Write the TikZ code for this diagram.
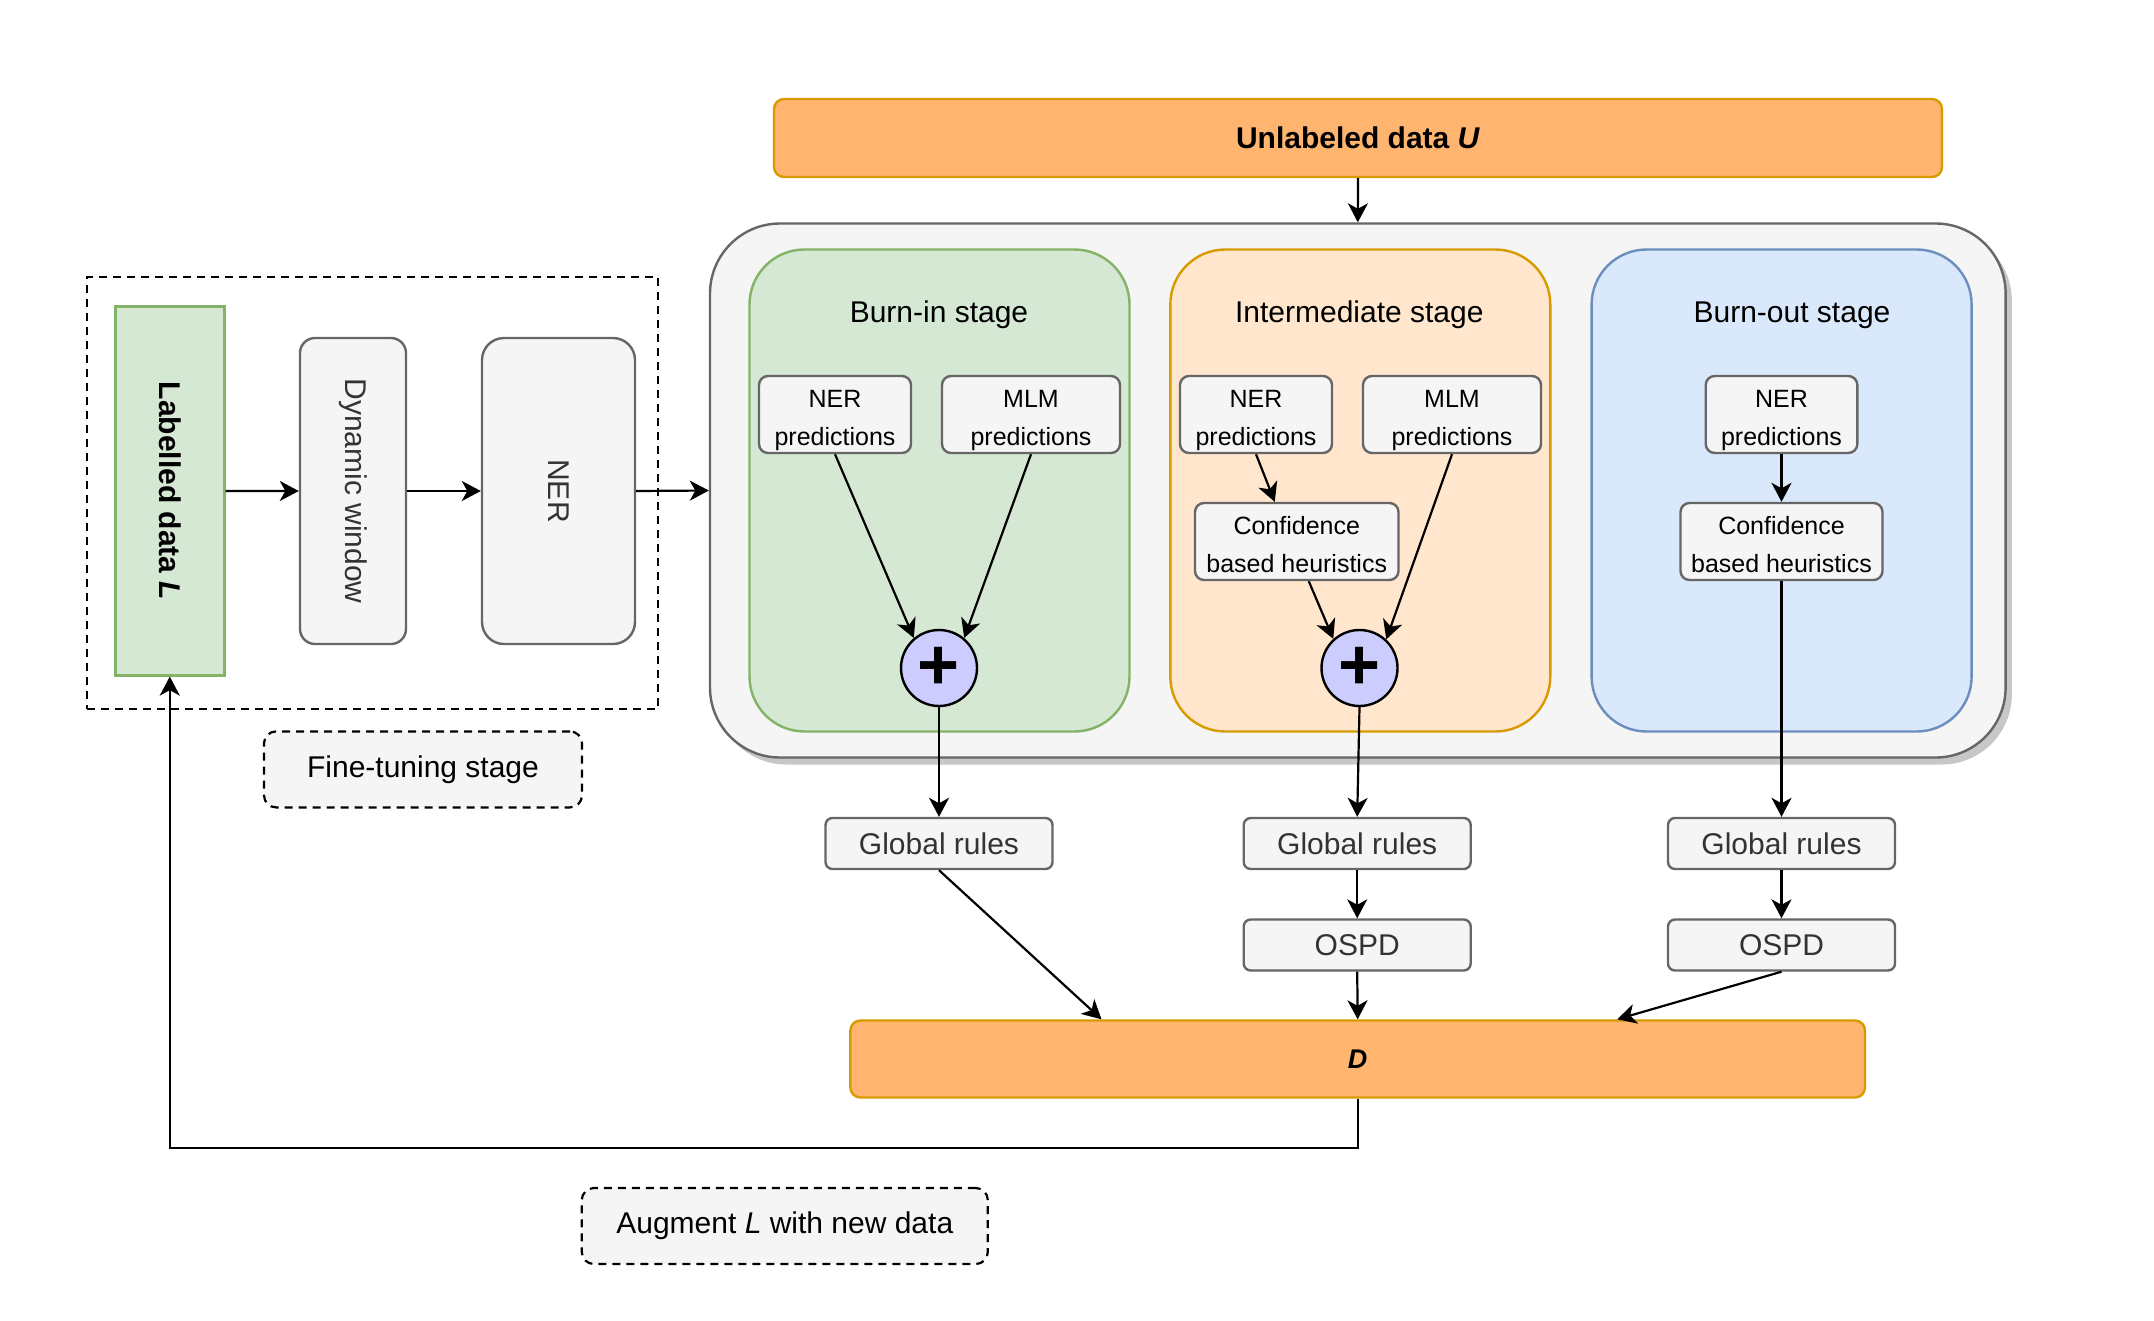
\documentclass[tikz,border=0pt]{standalone}
\usepackage{fontspec}
\usepackage{graphicx}
\setmainfont{Liberation Sans}
\usetikzlibrary{arrows.meta,calc}
\definecolor{gfill}{HTML}{D5E8D4}
\definecolor{gline}{HTML}{82B366}
\definecolor{ofill}{HTML}{FFE6CC}
\definecolor{oline}{HTML}{D79B00}
\definecolor{bfill}{HTML}{DAE8FC}
\definecolor{bline}{HTML}{6C8EBF}
\definecolor{grayfill}{HTML}{F5F5F5}
\definecolor{grayline}{HTML}{666666}
\definecolor{graytext}{HTML}{333333}
\definecolor{dfill}{HTML}{FFB570}
\definecolor{plusfill}{HTML}{CCCCFF}
\newcommand{\mytopstrut}{\rule{0pt}{30pt}}
\newcommand{\mybotstrut}{\rule[-7pt]{0pt}{7pt}}
\begin{document}
\begin{tikzpicture}[x=1pt,y=-1pt,
  graybox/.style={draw=grayline, fill=grayfill, line width=2.4pt, rounded corners=9pt, inner sep=0pt, align=center},
  smallbox/.style={graybox, font=\fontsize{25}{38}\selectfont, minimum height=77pt},
  rulebox/.style={graybox, text=graytext, font=\fontsize{30}{36}\selectfont, minimum width=227pt, minimum height=51pt, rounded corners=7pt},
  panel/.style={line width=2.4pt, rounded corners=55pt, minimum width=380pt, minimum height=482pt, inner sep=0pt},
  stagetitle/.style={font=\fontsize{30}{36}\selectfont, inner sep=0pt},
  databox/.style={draw=oline, fill=dfill, line width=2.4pt, rounded corners=10pt, inner sep=0pt, font=\fontsize{30}{36}\selectfont\bfseries},
  plusnode/.style={circle, draw=black, fill=plusfill, line width=2.4pt, minimum size=76pt, inner sep=0pt, font=\fontsize{72}{72}\selectfont\bfseries},
  dashbox/.style={draw=black, line width=2.2pt, dash pattern=on 8pt off 6pt},
  arr/.style={-{Stealth[length=19pt,width=20pt,inset=5.5pt]}, line width=2.2pt}
]
\useasboundingbox (0,0) rectangle (2154,1320);

% top data
\node[databox, minimum width=1168pt, minimum height=78pt] (U) at (1358,138) {Unlabeled data \textit{U}};

% container with shadow
\node[fill=black!22, rounded corners=70pt, minimum width=1295.6pt, minimum height=534pt, inner sep=0pt] (contshadow) at (1364,497.5) {};
\node[draw=grayline, fill=grayfill, line width=2.4pt, rounded corners=70pt, minimum width=1295.6pt, minimum height=534pt, inner sep=0pt] (cont) at (1357.8,490.5) {};

% panels
\node[panel, draw=gline, fill=gfill] (pA) at (939.5,490.5) {};
\node[panel, draw=oline, fill=ofill] (pI) at (1360.3,490.5) {};
\node[panel, draw=bline, fill=bfill] (pO) at (1781.6,490.5) {};
\node[stagetitle] (tA) at (939,315) {Burn-in stage};
\node[stagetitle] (tI) at (1359.3,315) {Intermediate stage};
\node[stagetitle] (tO) at (1792,315) {Burn-out stage};

% burn-in
\node[smallbox, minimum width=152pt] (nerA) at (835,414.5) {\mytopstrut NER\\predictions};
\node[smallbox, minimum width=178pt] (mlmA) at (1031,414.5) {\mytopstrut MLM\\predictions};
\node[plusnode] (plusA) at (939,668) {+};
% intermediate
\node[smallbox, minimum width=152pt] (nerI) at (1256,414.5) {\mytopstrut NER\\predictions};
\node[smallbox, minimum width=178pt] (mlmI) at (1452,414.5) {\mytopstrut MLM\\predictions};
\node[smallbox, minimum width=203.5pt] (confI) at (1296.75,541.5) {\mytopstrut Confidence\\based heuristics\mybotstrut};
\node[plusnode] (plusI) at (1359.5,668) {+};
% burn-out
\node[smallbox, minimum width=151.6pt] (nerO) at (1781.5,414.5) {\mytopstrut NER\\predictions};
\node[smallbox, minimum width=202pt] (confO) at (1781.5,541.5) {\mytopstrut Confidence\\based heuristics\mybotstrut};

% rules
\node[rulebox] (gr1) at (939,843.5) {Global rules};
\node[rulebox] (gr2) at (1357.2,843.5) {Global rules};
\node[rulebox] (gr3) at (1781.5,843.5) {Global rules};
\node[rulebox] (ospd2) at (1357.2,945) {OSPD};
\node[rulebox] (ospd3) at (1781.5,945) {OSPD};

% D
\node[databox, minimum width=1014.6pt, minimum height=77pt, font=\fontsize{27}{32}\selectfont\bfseries] (D) at (1357.7,1059) {\textit{D}};

% fine-tuning area
\node[dashbox, minimum width=571pt, minimum height=432pt, inner sep=0pt] (ftframe) at (372.5,493) {};
\node[draw=gline, fill=gfill, line width=2.4pt, minimum width=109pt, minimum height=369pt, inner sep=0pt, font=\fontsize{30}{36}\selectfont\bfseries] (lab) at (169.8,490.9) {\rotatebox{-90}{Labelled data \textit{L}}};
\node[graybox, text=graytext, rounded corners=15pt, minimum width=106pt, minimum height=306pt, font=\fontsize{30}{36}\selectfont] (dyn) at (353,491) {\rotatebox{-90}{Dynamic window}};
\node[graybox, text=graytext, rounded corners=22pt, minimum width=153pt, minimum height=306pt, font=\fontsize{30}{36}\selectfont] (nerbox) at (558.5,491) {\rotatebox{-90}{NER}};
\node[dashbox, fill=grayfill, rounded corners=12pt, minimum width=318pt, minimum height=76pt, inner sep=0pt, font=\fontsize{30}{36}\selectfont] (fine) at (423,769.4) {Fine-tuning stage};
\node[dashbox, fill=grayfill, rounded corners=12pt, minimum width=406pt, minimum height=76pt, inner sep=0pt, font=\fontsize{30}{36}\selectfont] (aug) at (784.8,1226) {Augment \textit{L} with new data};

% connectors
\draw[arr] (U.south) -- (cont.north);
\draw[arr] (lab.east) -- (dyn.west);
\draw[arr] (dyn.east) -- (nerbox.west);
\draw[arr] (nerbox.east) -- (cont.west);
\draw[arr] (nerA.south) -- (plusA.130);
\draw[arr] (mlmA.south) -- (plusA.50);
\draw[arr] (nerI.south) -- ($(confI.north)+(-22,0)$);
\draw[arr] ($(confI.south)+(12,0)$) -- (plusI.132);
\draw[arr] (mlmI.south) -- (plusI.47);
\draw[arr] (nerO.south) -- (confO.north);
\draw[arr] (plusA.south) -- (gr1.north);
\draw[arr] (plusI.south) -- (gr2.north);
\draw[arr] (confO.south) -- (gr3.north);
\draw[arr] (gr2.south) -- (ospd2.north);
\draw[arr] (gr3.south) -- (ospd3.north);
\draw[arr] (gr1.south) -- ($(D.north west)+(252.3,0)$);
\draw[arr] (ospd2.south) -- (D.north);
\draw[arr] (ospd3.south) -- ($(D.north east)+(-249,0)$);
\coordinate (fb) at (169.8,1148);
\draw[arr] (D.south) |- (fb) -- (lab.south);
\end{tikzpicture}
\end{document}
